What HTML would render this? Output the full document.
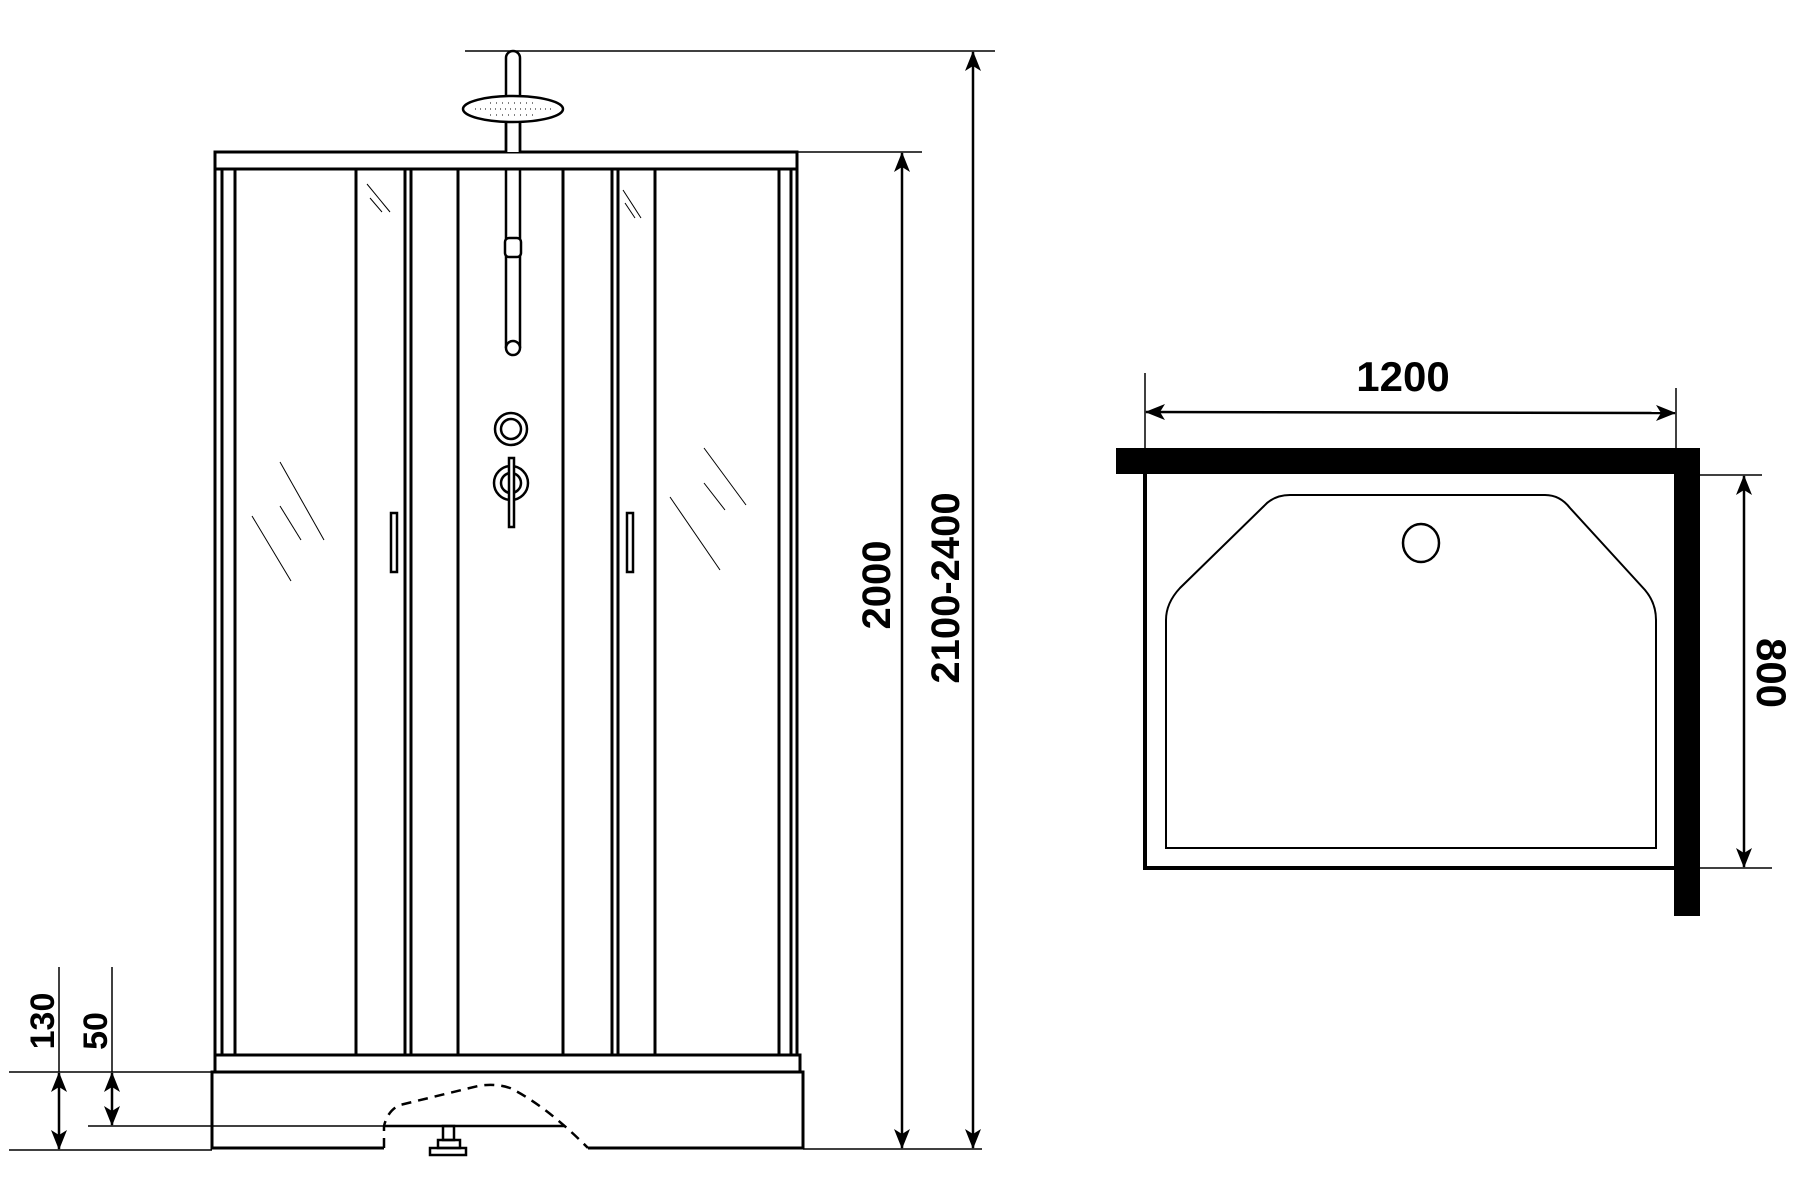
<!DOCTYPE html>
<html><head><meta charset="utf-8"><style>
html,body{margin:0;padding:0;background:#fff;}
svg{display:block;}
text{font-family:"Liberation Sans",sans-serif;font-weight:bold;fill:#000;}
</style></head><body>
<svg width="1800" height="1190" viewBox="0 0 1800 1190" xmlns="http://www.w3.org/2000/svg">
<defs>
<marker id="ah" viewBox="0 0 20 16" refX="19" refY="8" markerWidth="20" markerHeight="16" markerUnits="userSpaceOnUse" orient="auto-start-reverse">
<path d="M0,0 L20,8 L0,16 L5,8 Z" fill="#000"/>
</marker>
</defs>
<g stroke="#000" fill="none">
<rect x="215" y="152" width="582" height="17" stroke-width="3"/>
<rect x="215" y="1055" width="585" height="17" stroke-width="3"/>
<g stroke-width="3">
<line x1="215" y1="169" x2="215" y2="1055"/>
<line x1="222" y1="169" x2="222" y2="1055"/>
<line x1="235" y1="169" x2="235" y2="1055"/>
<line x1="356" y1="169" x2="356" y2="1055"/>
<line x1="405" y1="169" x2="405" y2="1055"/>
<line x1="411" y1="169" x2="411" y2="1055"/>
<line x1="458" y1="169" x2="458" y2="1055"/>
<line x1="563" y1="169" x2="563" y2="1055"/>
<line x1="612" y1="169" x2="612" y2="1055"/>
<line x1="618" y1="169" x2="618" y2="1055"/>
<line x1="655" y1="169" x2="655" y2="1055"/>
<line x1="779" y1="169" x2="779" y2="1055"/>
<line x1="791" y1="169" x2="791" y2="1055"/>
<line x1="797" y1="169" x2="797" y2="1055"/>
</g>
<rect x="391" y="513" width="6" height="59" stroke-width="2.5"/>
<rect x="627" y="513" width="6" height="59" stroke-width="2.5"/>
<g stroke-width="1">
<line x1="280" y1="462" x2="324" y2="540"/>
<line x1="280" y1="506" x2="301" y2="540"/>
<line x1="252" y1="516" x2="291" y2="581"/>
<line x1="704" y1="448" x2="746" y2="505"/>
<line x1="704" y1="483" x2="725" y2="510"/>
<line x1="670" y1="497" x2="720" y2="570"/>
<line x1="367" y1="184" x2="390" y2="212"/>
<line x1="370" y1="198" x2="382" y2="212"/>
<line x1="623" y1="190" x2="641" y2="218"/>
<line x1="625" y1="203" x2="635" y2="218"/>
</g>
<path d="M506,152 L506,58 A7,7 0 0 1 520,58 L520,152" stroke-width="2.5" fill="#fff"/>
<ellipse cx="513" cy="109" rx="50" ry="13" stroke-width="2.5" fill="#fff"/>
<line x1="475" y1="109" x2="553" y2="109" stroke-width="1" stroke-dasharray="1,4"/>
<line x1="490" y1="103" x2="537" y2="103" stroke-width="1" stroke-dasharray="1,5"/>
<line x1="490" y1="115" x2="537" y2="115" stroke-width="1" stroke-dasharray="1,5"/>
<line x1="506" y1="122" x2="506" y2="152" stroke-width="2.5"/>
<line x1="520" y1="122" x2="520" y2="152" stroke-width="2.5"/>
<path d="M506,169 L506,348 M520,169 L520,348" stroke-width="2.5"/>
<circle cx="513" cy="348" r="7" stroke-width="2.5" fill="#fff"/>
<rect x="505" y="238" width="16" height="19" rx="4" stroke-width="2.5" fill="#fff"/>
<circle cx="511" cy="429" r="16" stroke-width="2.5"/>
<circle cx="511" cy="429" r="10" stroke-width="2.5"/>
<circle cx="511" cy="483" r="17" stroke-width="2.5"/>
<circle cx="511" cy="483" r="10" stroke-width="2.5"/>
<rect x="509" y="458" width="5" height="69" stroke-width="2.5" fill="#fff"/>
<path d="M384,1148 L212,1148 L212,1072 L803,1072 L803,1148 L588,1148" stroke-width="3"/>
<path d="M384,1148 L384,1126 Q388,1110 400,1105 L478,1086 Q495,1083 510,1088 Q545,1105 588,1148" stroke-width="2.5" stroke-dasharray="10,7"/>
<line x1="88" y1="1126" x2="565" y2="1126" stroke-width="1.5"/>
<line x1="385" y1="1126" x2="565" y2="1126" stroke-width="2.5"/>
<rect x="443" y="1126" width="11" height="14" stroke-width="2.5"/>
<rect x="438" y="1140" width="22" height="8" stroke-width="2.5"/>
<rect x="430" y="1148" width="36" height="7" stroke-width="2.5"/>
<g stroke-width="1.5">
<line x1="465" y1="51" x2="995" y2="51"/>
<line x1="797" y1="152" x2="922" y2="152"/>
<line x1="803" y1="1149" x2="982" y2="1149"/>
<line x1="9" y1="1072" x2="212" y2="1072"/>
<line x1="9" y1="1150" x2="212" y2="1150"/>
<line x1="59" y1="967" x2="59" y2="1072"/>
<line x1="112" y1="967" x2="112" y2="1072"/>
</g>
<g stroke-width="2.5">
<line x1="902" y1="153" x2="902" y2="1148" marker-start="url(#ah)" marker-end="url(#ah)"/>
<line x1="973" y1="52" x2="973" y2="1148" marker-start="url(#ah)" marker-end="url(#ah)"/>
<line x1="59" y1="1073" x2="59" y2="1149" marker-start="url(#ah)" marker-end="url(#ah)"/>
<line x1="112" y1="1073" x2="112" y2="1125" marker-start="url(#ah)" marker-end="url(#ah)"/>
</g>
<rect x="1116" y="448" width="584" height="26" fill="#000" stroke="none"/>
<rect x="1674" y="448" width="26" height="468" fill="#000" stroke="none"/>
<path d="M1145,474 L1145,868 L1674,868" stroke-width="4"/>
<path d="M1166,848 L1656,848 L1656,620 Q1656,603 1645,590 L1570,508 Q1560,495 1545,495 L1290,495 Q1274,495 1264,506 L1180,588 Q1166,603 1166,620 Z" stroke-width="2"/>
<ellipse cx="1421" cy="543" rx="18" ry="19" stroke-width="2.5"/>
<g stroke-width="1.5">
<line x1="1145" y1="373" x2="1145" y2="474"/>
<line x1="1676" y1="388" x2="1676" y2="448"/>
<line x1="1674" y1="475" x2="1762" y2="475"/>
<line x1="1674" y1="868" x2="1772" y2="868"/>
</g>
<g stroke-width="2.5">
<line x1="1146" y1="412" x2="1675" y2="413" marker-start="url(#ah)" marker-end="url(#ah)"/>
<line x1="1744" y1="476" x2="1744" y2="867" marker-start="url(#ah)" marker-end="url(#ah)"/>
</g>
</g>
<text x="1403" y="391" font-size="42" text-anchor="middle">1200</text>
<text transform="translate(1757,673) rotate(90)" font-size="42" text-anchor="middle">800</text>
<text transform="translate(890,585) rotate(-90)" font-size="40" text-anchor="middle">2000</text>
<text transform="translate(959,588) rotate(-90)" font-size="40" text-anchor="middle">2100-2400</text>
<text transform="translate(54,1021) rotate(-90)" font-size="34" text-anchor="middle">130</text>
<text transform="translate(107,1031) rotate(-90)" font-size="34" text-anchor="middle">50</text>
</svg>
</body></html>
